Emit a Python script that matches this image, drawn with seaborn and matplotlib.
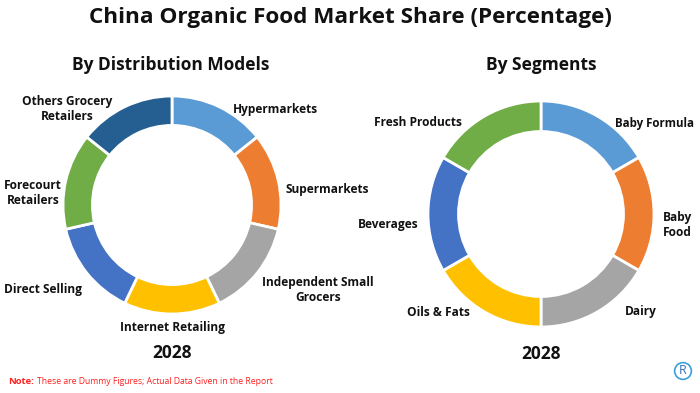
import matplotlib
matplotlib.use("Agg")
import matplotlib.pyplot as plt
import seaborn as sns

# Data (dummy figures: equal shares)
channels = ["Hypermarkets", "Supermarkets", "Independent Small Grocers",
            "Internet Retailing", "Direct Selling", "Forecourt Retailers",
            "Others Grocery Retailers"]
channel_share = [1, 1, 1, 1, 1, 1, 1]

segments = ["Baby Formula", "Baby Food", "Dairy", "Oils & Fats",
            "Beverages", "Fresh Products"]
segment_share = [1, 1, 1, 1, 1, 1]

office_colors = ["#5B9BD5", "#ED7D31", "#A5A5A5", "#FFC000",
                 "#4472C4", "#70AD47", "#255E91"]

sns.set_theme(style="white")
plt.rcParams['font.family'] = ['Open Sans', 'DejaVu Sans']

W, H = 700, 393
fig = plt.figure(figsize=(W / 100, H / 100), dpi=100)


def px_axes(cx, cy, r):
    # axes box in pixel coords (top-left origin)
    return fig.add_axes([(cx - r) / W, (H - cy - r) / H, 2 * r / W, 2 * r / H])


def donut(ax, values, colors):
    ax.pie(values, colors=colors, startangle=90, counterclock=False,
           wedgeprops=dict(width=0.27, edgecolor="white", linewidth=2))
    ax.set_xlim(-1, 1)
    ax.set_ylim(-1, 1)
    ax.set_aspect("equal")
    ax.axis("off")


def label(x, y, s, ha="center", size=8.6, weight="bold"):
    return fig.text(x / W, 1 - y / H, s, ha=ha, va="center", fontsize=size,
                    fontweight=weight, color="#111111", linespacing=1.25)


ax1 = px_axes(172, 205, 109)
donut(ax1, channel_share, sns.color_palette(office_colors[:7]))

ax2 = px_axes(541, 214, 113)
donut(ax2, segment_share, sns.color_palette(office_colors[:6]))

# Titles
label(350, 17, "China Organic Food Market Share (Percentage)", size=16.2)
label(171, 65, "By Distribution Models", size=12.5)
label(541, 65, "By Segments", size=12.5)

# Left donut labels
label(67, 109, "Others Grocery\nRetailers")
label(233, 109, "Hypermarkets", ha="left")
label(286, 190, "Supermarkets", ha="left")
label(318, 290, "Independent Small\nGrocers")
label(173, 328, "Internet Retailing")
label(4, 289, "Direct Selling", ha="left")
label(33, 193, "Forecourt\nRetailers")
label(172, 353, "2028", size=12.5)

# Right donut labels
label(418, 123, "Fresh Products")
label(615, 123, "Baby Formula", ha="left", size=8.3)
label(677, 225, "Baby\nFood")
label(625, 312, "Dairy", ha="left")
label(438, 312, "Oils & Fats")
label(388, 225, "Beverages")
label(541, 354, "2028", size=12.5)

# Footnote: "Note:" in bold, the rest placed right after it
note = fig.text(8 / W, 1 - 381 / H, "Note:", ha="left", va="center",
                fontsize=6.8, fontweight="bold", color="#FF2020")
fig.canvas.draw()
bb = note.get_window_extent(fig.canvas.get_renderer())
fig.text((bb.x1 + 3) / W, 1 - 381 / H,
         "These are Dummy Figures; Actual Data Given in the Report",
         ha="left", va="center", fontsize=6.2, color="#FF2020")

# small logo mark
fig.text(683 / W, 1 - 371 / H, "R", ha="center", va="center", fontsize=9,
         color="#2F6FB5", bbox=dict(boxstyle="circle,pad=0.15", fc="none",
                                    ec="#3AA0DC", lw=1.2))

fig.savefig("out.png", dpi=100)
